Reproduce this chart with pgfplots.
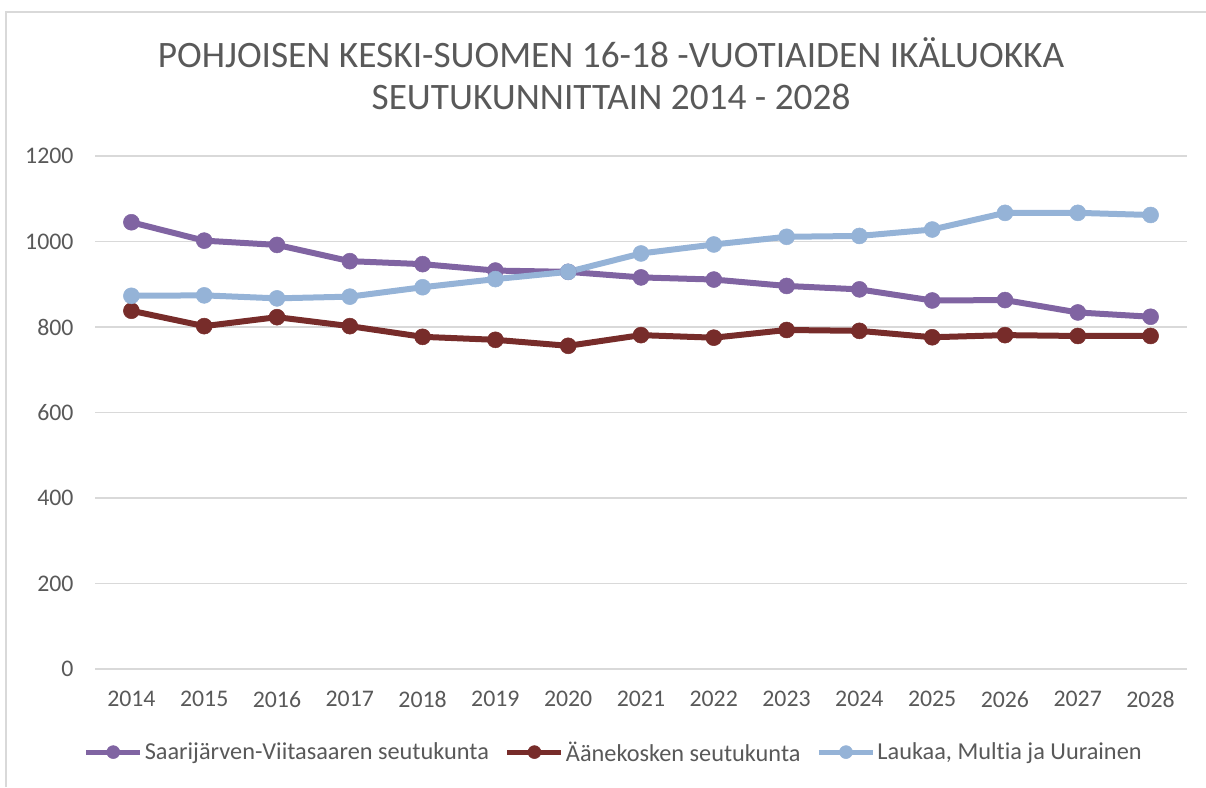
\documentclass[border=0pt]{standalone}
\usepackage{pgfplots}
\pgfplotsset{compat=1.18}
\usepackage{fontspec}
\setmainfont{Carlito}[Ligatures=NoCommon]
\definecolor{cpurple}{HTML}{8064A2}
\definecolor{cred}{HTML}{772C2A}
\definecolor{cblue}{HTML}{95B3D7}
\definecolor{ctext}{HTML}{595959}
\definecolor{cgrid}{HTML}{D9D9D9}
\begin{document}
\begin{tikzpicture}[x=1pt,y=1pt]
\path[use as bounding box] (0,0) rectangle (1206,787);
\draw[cgrid,line width=1.5pt] (6,0) -- (6,775) -- (1206,775);
\begin{axis}[
  at={(95pt,118pt)}, anchor=origin,
  scale only axis, width=1092pt, height=513pt,
  xmin=2013.5, xmax=2028.5, ymin=0, ymax=1200,
  xtick={2014,...,2028}, ytick={0,200,...,1200},
  axis line style={draw=none},
  major tick length=0pt,
  ymajorgrids, grid style={cgrid,line width=1.5pt},
  /pgf/number format/assume math mode=true,
  xticklabel={\pgfmathprintnumber[1000 sep={},fixed]{\tick}},
  yticklabel={\pgfmathprintnumber[1000 sep={},fixed]{\tick}},
  tick label style={font=\fontsize{23.8}{26}\selectfont, text=ctext},
  yticklabel style={xshift=-18pt},
  xticklabel style={yshift=-19pt},
  title={POHJOISEN KESKI-SUOMEN 16-18 -VUOTIAIDEN IKÄLUOKKA\\SEUTUKUNNITTAIN 2014 - 2028},
  title style={at={(0.4725,1.148)}, anchor=center, align=center, font=\fontsize{37.3}{42}\selectfont, text=ctext},
  legend columns=3,
  legend style={at={(0.475,-0.162)}, anchor=center, draw=none, font=\fontsize{24.3}{26}\selectfont, text=ctext,
    /tikz/every even column/.append style={column sep=14pt}},
  legend image code/.code={\draw[mark repeat=2,mark phase=2,line width=5pt,mark size=6.5pt] plot coordinates {(0pt,0pt) (27pt,0pt) (54pt,0pt)};},
  every axis plot/.append style={line width=6pt, mark=*, mark size=8pt},
]
\addplot[cpurple, mark options={fill=cpurple,draw=cpurple,line width=0.5pt}] coordinates {
(2014,1045)(2015,1002)(2016,992)(2017,954)(2018,947)(2019,932)(2020,929)(2021,916)(2022,911)(2023,896)(2024,888)(2025,862)(2026,863)(2027,834)(2028,824)};
\addlegendentry{Saarijärven-Viitasaaren seutukunta}
\addplot[cred, mark options={fill=cred,draw=cred,line width=0.5pt}] coordinates {
(2014,838)(2015,802)(2016,823)(2017,802)(2018,777)(2019,770)(2020,756)(2021,781)(2022,775)(2023,793)(2024,791)(2025,776)(2026,781)(2027,779)(2028,779)};
\addlegendentry{Äänekosken seutukunta}
\addplot[cblue, mark options={fill=cblue,draw=cblue,line width=0.5pt}] coordinates {
(2014,873)(2015,874)(2016,867)(2017,871)(2018,893)(2019,912)(2020,929)(2021,972)(2022,993)(2023,1011)(2024,1013)(2025,1028)(2026,1067)(2027,1067)(2028,1062)};
\addlegendentry{Laukaa, Multia ja Uurainen}
\end{axis}
\end{tikzpicture}
\end{document}
